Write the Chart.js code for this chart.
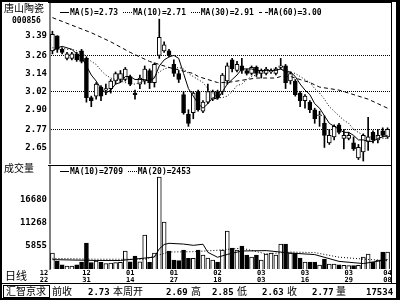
<!DOCTYPE html>
<html lang="zh">
<head>
<meta charset="UTF-8">
<title>唐山陶瓷 000856 日线</title>
<script src="https://cdn.jsdelivr.net/npm/chart.js"></script>
<style>
  body { margin: 0; background: #fff; }
  #wrap { position: relative; width: 400px; height: 300px; overflow: hidden; background: #fff; color: #000;
          font-family: "DejaVu Sans Mono", monospace; font-weight: bold; }
  canvas { position: absolute; left: 0; }
  .ln { position: absolute; background: #000; }
  .txt { position: absolute; white-space: pre; line-height: 1; }
  .cjk { font-family: "Noto Sans CJK SC", sans-serif; font-weight: normal; }
  .leg { position: absolute; white-space: pre; font-size: 8px; line-height: 1; }
  .mk { display: inline-block; width: 9px; height: 0; border-top: 1px solid #000; vertical-align: middle; margin-right: 1px; }
  .mk.dot { border-top-style: dotted; }
  .mk.dash { border-top-style: dashed; }
</style>
</head>
<body>
<div id="wrap">
  <canvas id="price" width="400" height="165" style="top:0"></canvas>
  <canvas id="vol" width="400" height="118" style="top:165px"></canvas>

  <div class="ln" style="left:0;top:0;width:400px;height:2px"></div>
  <div class="ln" style="left:0;top:298px;width:400px;height:2px"></div>
  <div class="ln" style="left:0;top:0;width:2px;height:300px"></div>
  <div class="ln" style="left:396px;top:0;width:4px;height:300px"></div>
  <div class="ln" style="left:391px;top:2px;width:1px;height:282px"></div>
  <div class="ln" style="left:48px;top:2px;width:344px;height:1px"></div>
  <div class="ln" style="left:48px;top:165px;width:344px;height:1px"></div>
  <div class="ln" style="left:0;top:283px;width:400px;height:1px"></div>

  <div class="txt cjk" style="left:4px;top:3px;font-size:10px">唐山陶瓷</div>
  <div class="txt" style="left:12px;top:17px;font-size:8px">000856</div>
  <div class="txt cjk" style="left:4px;top:163px;font-size:10px">成交量</div>
  <div class="txt cjk" style="left:5px;top:270px;font-size:11px">日线</div>

  <div id="legP" class="leg" style="left:60px;top:9px"></div>
  <div id="legV" class="leg" style="left:60px;top:168px"></div>

  <div class="ln" style="left:3px;top:285px;width:47px;height:13px;background:none;border:1px solid #000;box-sizing:border-box"></div>
  <div id="info"></div>
</div>
<script>
// trading days, 2004-12-22 .. 2005-04-08
const days = [
  '12/22','12/23','12/24','12/27','12/28','12/29','12/30','12/31',
  '01/04','01/05','01/06','01/07','01/10','01/11','01/12','01/13','01/14','01/17','01/18','01/19',
  '01/20','01/21','01/24','01/25','01/26','01/27','01/28','01/31',
  '02/01','02/02','02/03','02/04','02/16','02/17','02/18','02/21','02/22','02/23','02/24','02/25','02/28',
  '03/01','03/02','03/03','03/04','03/07','03/08','03/09','03/10','03/11','03/14','03/15','03/16',
  '03/17','03/18','03/21','03/22','03/23','03/24','03/25','03/28','03/29','03/30','03/31',
  '04/01','04/04','04/05','04/06','04/07','04/08'
];
const dateTicks = ['12/22','12/31','01/14','01/27','02/18','03/03','03/16','03/29','04/08'];

const openP = [
  3.29,3.39,3.30,3.24,3.24,3.27,3.29,3.24,2.98,2.99,
  3.05,3.03,3.04,3.09,3.10,3.10,3.12,3.01,3.07,3.09,
  3.16,3.08,3.26,3.29,3.29,3.20,3.14,3.00,2.87,2.88,
  3.02,2.89,2.95,2.97,3.02,3.02,3.09,3.23,3.16,3.19,
  3.16,3.14,3.18,3.14,3.14,3.15,3.14,3.18,3.19,3.09,
  3.09,3.01,2.96,2.95,2.90,2.86,2.81,2.68,2.72,2.80,
  2.71,2.71,2.68,2.58,2.62,2.69,2.75,2.70,2.76,2.72
];
const highP = [
  3.42,3.39,3.31,3.28,3.28,3.28,3.30,3.25,2.99,3.08,
  3.06,3.07,3.10,3.15,3.16,3.18,3.13,3.03,3.13,3.19,
  3.17,3.21,3.50,3.35,3.30,3.23,3.16,3.02,2.90,3.02,
  3.03,2.96,3.07,3.03,3.03,3.14,3.21,3.24,3.22,3.24,
  3.17,3.19,3.19,3.17,3.18,3.17,3.18,3.24,3.20,3.15,
  3.10,3.02,3.00,2.96,2.91,2.89,2.86,2.77,2.80,2.81,
  2.77,2.75,2.72,2.67,2.74,2.85,2.76,2.77,2.78,2.78
];
const lowP = [
  3.27,3.28,3.27,3.23,3.23,3.22,3.21,2.95,2.92,2.97,
  2.96,3.00,3.01,3.07,3.08,3.09,3.06,2.97,3.04,3.07,
  3.04,3.05,3.24,3.28,3.25,3.12,3.08,2.87,2.79,2.84,
  2.89,2.88,2.94,2.96,2.97,3.00,3.07,3.15,3.15,3.14,
  3.13,3.13,3.12,3.11,3.13,3.14,3.13,3.17,3.04,3.07,
  2.99,2.92,2.91,2.88,2.81,2.79,2.65,2.67,2.70,2.74,
  2.64,2.70,2.63,2.57,2.56,2.63,2.68,2.68,2.72,2.71
];
const closeP = [
  3.40,3.30,3.28,3.27,3.27,3.23,3.22,2.98,2.96,3.07,
  2.99,3.04,3.09,3.14,3.14,3.17,3.07,3.00,3.11,3.17,
  3.08,3.20,3.38,3.33,3.26,3.14,3.10,2.88,2.81,3.01,
  2.90,2.95,3.02,3.02,2.98,3.13,3.19,3.17,3.20,3.16,
  3.14,3.18,3.14,3.16,3.17,3.16,3.17,3.19,3.08,3.14,
  3.00,2.96,2.99,2.90,2.84,2.86,2.73,2.73,2.79,2.75,
  2.73,2.73,2.64,2.65,2.73,2.72,2.70,2.73,2.73,2.77
];
const volume = [
  4240,2390,1500,1200,1200,1500,2160,6550,2000,2390,
  2100,1800,1900,2000,2100,4700,2200,3540,2200,8400,
  2100,4240,21800,11400,4700,2600,2500,4900,3000,3000,
  4900,3770,3080,2620,2160,4930,9320,5390,4930,5855,
  3770,3310,3770,2620,4000,4240,3770,6300,6300,4240,
  4240,3080,2160,2160,2160,1460,2850,1700,1700,1500,
  1400,1300,1300,1400,3310,4000,2160,2620,4470,4470
];

const ma5 = [
  3.29,3.31,3.32,3.31,3.30,3.27,3.25,3.19,3.13,3.09,
  3.04,3.01,3.03,3.07,3.08,3.12,3.12,3.10,3.10,3.10,
  3.09,3.11,3.19,3.23,3.25,3.26,3.24,3.14,3.04,2.99,
  2.94,2.91,2.94,2.98,2.97,3.02,3.07,3.10,3.13,3.17,
  3.17,3.17,3.16,3.16,3.16,3.16,3.16,3.17,3.15,3.15,
  3.12,3.07,3.03,3.00,2.94,2.91,2.86,2.81,2.79,2.77,
  2.75,2.75,2.73,2.70,2.70,2.69,2.69,2.71,2.72,2.73
];
const ma10 = [
  3.31,3.31,3.31,3.30,3.30,3.29,3.28,3.25,3.22,3.20,
  3.16,3.13,3.11,3.10,3.09,3.08,3.07,3.07,3.08,3.09,
  3.10,3.12,3.15,3.17,3.18,3.17,3.18,3.17,3.14,3.12,
  3.10,3.08,3.04,3.01,2.98,2.98,2.99,3.02,3.06,3.07,
  3.10,3.12,3.13,3.15,3.16,3.17,3.17,3.17,3.16,3.15,
  3.14,3.12,3.10,3.08,3.04,3.01,2.97,2.92,2.89,2.86,
  2.83,2.81,2.77,2.75,2.73,2.72,2.72,2.72,2.71,2.71
];
// [day index, value]
const ma30 = [[0,3.51],[4,3.46],[8,3.41],[12,3.35],[16,3.28],[20,3.22],[24,3.18],[29,3.14],[30,3.12],
  [32,3.10],[34,3.08],[36,3.08],[38,3.09],[40,3.10],[42,3.11],[44,3.11],[46,3.11],[47,3.12],[49,3.12],
  [51,3.10],[53,3.08],[55,3.05],[57,3.04],[59,3.03],[61,3.01],[63,2.99],[65,2.97],[67,2.94],[69,2.91]];
const volMa10 = [[0,2700],[9,2510],[14,2500],[19,3060],[21,3300],[22,5200],[23,6200],[24,6480],[27,6300],
  [29,6010],[31,6260],[32,4390],[34,3250],[36,3900],[39,4700],[44,4790],[49,4230],[54,3870],[59,2300],[64,1790],[69,2709]];
const volMa20 = [[0,3000],[9,2800],[19,2790],[24,4470],[29,4540],[34,4870],[39,5360],[44,4020],[49,4460],
  [54,4330],[59,3270],[64,2830],[69,2453]];

const priceTicks = [2.65, 2.77, 2.90, 3.02, 3.14, 3.26, 3.39];
const priceGrid = [2.77, 3.02, 3.26];
const volTicks = [5855, 11268, 16680];

const legendPrice = [['MA(5)', '2.73', 'solid'], ['MA(10)', '2.71', 'dot'], ['MA(30)', '2.91', 'dot'], ['MA(60)', '3.00', 'dash']];
const legendVol = [['MA(10)', '2709', 'solid'], ['MA(20)', '2453', 'dot']];
const infoItems = [
  ['汇智京求', 6, true], ['前收', 52, true], ['2.73', 88, false], ['本周开', 113, true], ['2.69', 166, false],
  ['高', 191, true], ['2.85', 212, false], ['低', 237, true], ['2.63', 262, false], ['收', 287, true],
  ['2.77', 312, false], ['量', 336, true], ['17534', 366, false]
];

const pts = arr => arr.map(([i, v]) => ({ x: days[i], y: v }));
const up = days.map((d, i) => closeP[i] >= openP[i]);
const tickFont = { family: 'DejaVu Sans Mono', size: 9, weight: 'bold' };

function legendHtml(items) {
  return items.map(([n, v, s]) => '<span class="mk ' + s + '"></span>' + n + '=' + v).join(' ');
}
document.getElementById('legP').innerHTML = legendHtml(legendPrice);
document.getElementById('legV').innerHTML = legendHtml(legendVol);
document.getElementById('info').innerHTML = infoItems.map(([t, x, cjk]) =>
  '<div class="txt' + (cjk ? ' cjk' : '') + '" style="left:' + x + 'px;top:' + (cjk ? 286 : 288) + 'px;font-size:' + (cjk ? 10 : 9) + 'px">' + t + '</div>'
).join('');

function lineDs(data, dash) {
  return { type: 'line', data: data, borderColor: '#000', borderWidth: 1, borderDash: dash,
           pointRadius: 0, tension: 0, order: 0 };
}
// keep the plot areas exactly where the axes say, without label overhang padding
function fixY(width) {
  return s => { s.width = width; s.paddingTop = 0; s.paddingBottom = 0; };
}

new Chart(document.getElementById('price'), {
  type: 'bar',
  data: {
    labels: days,
    datasets: [
      { data: days.map((d, i) => [openP[i], closeP[i]]), backgroundColor: up.map(u => u ? '#fff' : '#000'),
        borderColor: '#000', borderWidth: 1, borderSkipped: false, barThickness: 4, minBarLength: 1,
        grouped: false, order: 1 },
      { data: days.map((d, i) => [lowP[i], highP[i]]), backgroundColor: '#000', barThickness: 1,
        grouped: false, order: 2 },
      lineDs(ma5, []),
      lineDs(ma10, [1, 2]),
      lineDs(pts(ma30), [4, 3])
    ]
  },
  options: {
    responsive: false, animation: false, devicePixelRatio: 1,
    layout: { padding: { top: 3, bottom: 2, left: 0, right: 10 } },
    plugins: { legend: { display: false }, tooltip: { enabled: false } },
    scales: {
      x: { display: false, offset: true },
      y: {
        min: 2.547, max: 3.607,
        afterFit: fixY(50),
        afterBuildTicks(s) { s.ticks = priceTicks.map(v => ({ value: v })); },
        ticks: { callback: v => v.toFixed(2), font: tickFont, color: '#000', padding: 3 },
        grid: { drawTicks: false, color: c => priceGrid.includes(c.tick && c.tick.value) ? '#000' : 'rgba(0,0,0,0)' },
        border: { color: '#808080', width: 2, dash: [1, 1] }
      }
    }
  }
});

new Chart(document.getElementById('vol'), {
  type: 'bar',
  data: {
    labels: days,
    datasets: [
      { data: volume, backgroundColor: up.map(u => u ? '#fff' : '#000'), borderColor: '#000', borderWidth: 1,
        borderSkipped: false, barThickness: 4, order: 1 },
      lineDs(pts(volMa10), []),
      lineDs(pts(volMa20), [1, 2])
    ]
  },
  options: {
    responsive: false, animation: false, devicePixelRatio: 1,
    layout: { padding: { top: 0, bottom: 0, left: 0, right: 10 } },
    plugins: { legend: { display: false }, tooltip: { enabled: false } },
    scales: {
      x: {
        offset: true,
        afterFit(s) { s.height = 14; s.paddingLeft = 0; s.paddingRight = 0; },
        grid: { display: false, drawTicks: false }, border: { display: false },
        ticks: { autoSkip: false, maxRotation: 0, minRotation: 0, padding: 1, color: '#000',
                 font: { family: 'DejaVu Sans Mono', size: 7, weight: 'bold', lineHeight: 1 },
                 callback: (v, i) => {
                   if (!dateTicks.includes(days[i])) return '';
                   const p = days[i].split('/');
                   return i === 0 ? p.map(t => t + '    ') : p;   // first label sits left of its bar
                 } }
      },
      y: {
        min: 535, max: 24590,
        afterFit: fixY(50),
        afterBuildTicks(s) { s.ticks = volTicks.map(v => ({ value: v })); },
        ticks: { callback: v => String(v), font: tickFont, color: '#000', padding: 3 },
        grid: { display: false, drawTicks: false },
        border: { color: '#808080', width: 2 }
      }
    }
  }
});
</script>
</body>
</html>
